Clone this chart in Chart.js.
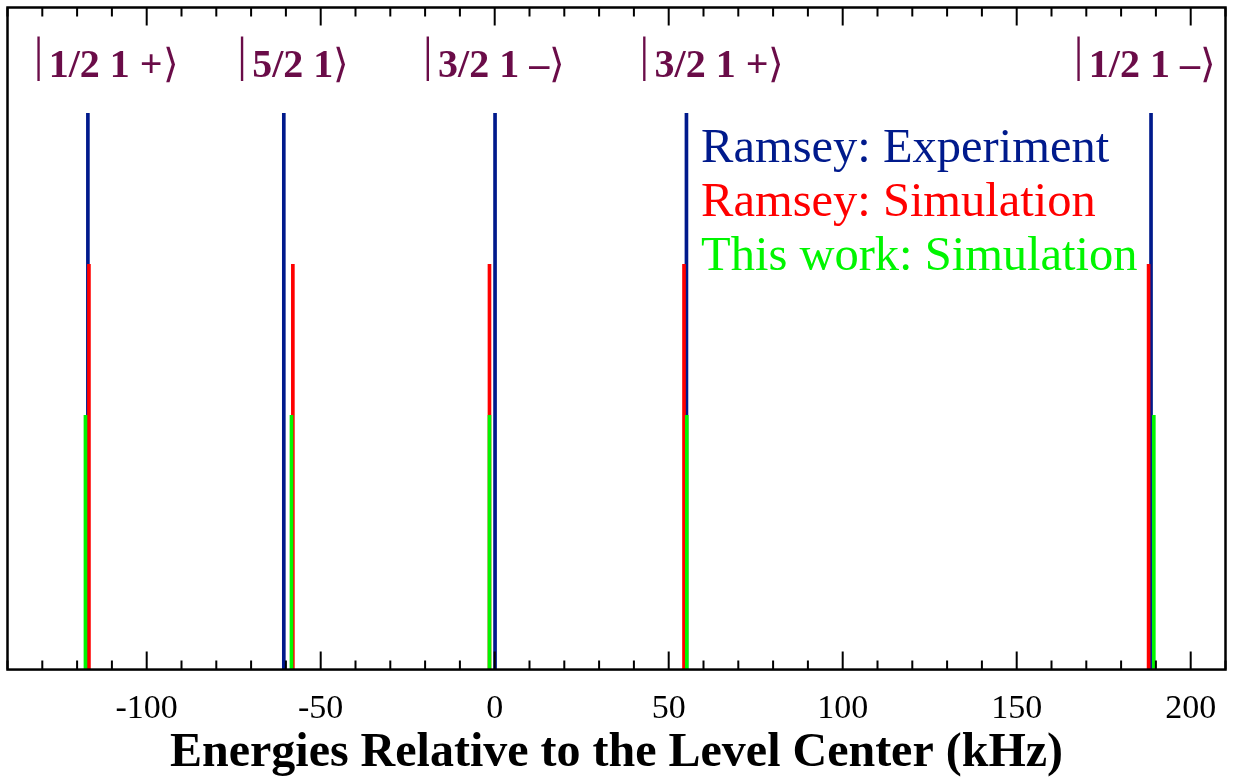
<!DOCTYPE html>
<html>
<head>
<meta charset="utf-8">
<script src="https://cdn.jsdelivr.net/npm/chart.js@4.4.1/dist/chart.umd.min.js"></script>
<style>
  html, body { margin: 0; padding: 0; background: #fff; }
</style>
</head>
<body>
<canvas id="chart" width="1234" height="780"></canvas>
<script>
// line positions (kHz) and heights (arb. units)
const expEnergies = [-116.9, -60.6, 0.1, 55.1, 188.6];
const expHeights = [0.84, 0.84, 0.84, 0.84, 0.84];
const ramseySimEnergies = [-116.6, -58.0, -1.5, 54.4, 187.9];
const ramseySimHeights = [0.612, 0.612, 0.612, 0.612, 0.612];
const thisWorkEnergies = [-117.6, -58.4, -1.5, 55.2, 189.4];
const thisWorkHeights = [0.384, 0.384, 0.384, 0.384, 0.384];

const seriesLabels = ['Ramsey: Experiment', 'Ramsey: Simulation', 'This work: Simulation'];
const levelLabels = ['1/2 1 +', '5/2 1', '3/2 1 \u2013', '3/2 1 +', '1/2 1 \u2013'];
const xTitle = 'Energies Relative to the Level Center (kHz)';

const SERIF = "'Liberation Serif', 'Times New Roman', serif";

function points(xs, ys) {
  return xs.map((x, i) => ({ x: x, y: ys[i] }));
}

// frame, inward tick marks, ket labels and the text legend
const decorations = {
  id: 'decorations',
  afterDraw(chart, args, opts) {
    const ctx = chart.ctx;
    const area = chart.chartArea;
    const xs = chart.scales.x;
    ctx.save();

    // tick marks on bottom and top edges
    ctx.strokeStyle = '#000';
    ctx.lineWidth = 2;
    xs.ticks.forEach(t => {
      const px = xs.getPixelForValue(t.value);
      const len = t.value % 50 === 0 ? 18 : 9;
      ctx.beginPath();
      ctx.moveTo(px, area.bottom);
      ctx.lineTo(px, area.bottom - len);
      ctx.moveTo(px, area.top);
      ctx.lineTo(px, area.top + len);
      ctx.stroke();
    });

    // frame
    ctx.lineWidth = 2.5;
    ctx.strokeRect(area.left, area.top, area.right - area.left, area.bottom - area.top);

    // ket labels
    ctx.fillStyle = opts.ketColor;
    ctx.textAlign = 'left';
    ctx.textBaseline = 'alphabetic';
    levelLabels.forEach((txt, i) => {
      const x = xs.getPixelForValue(opts.ketX[i]);
      const base = area.top + 69.5;
      ctx.font = '48px ' + SERIF;
      ctx.fillText('|', x - 1, base - 6);
      ctx.font = 'bold 40px ' + SERIF;
      ctx.fillText(txt, x + 14, base);
      const w = ctx.measureText(txt).width;
      ctx.font = '40px ' + SERIF;
      ctx.fillText('\u27E9', x + 14 + w, base);
    });

    // legend as coloured text
    ctx.font = '48.5px ' + SERIF;
    const lx = xs.getPixelForValue(opts.legendX);
    chart.data.datasets.forEach((ds, i) => {
      ctx.fillStyle = ds.backgroundColor;
      ctx.fillText(ds.label, lx, area.top + 154 + i * 54.3);
    });

    ctx.restore();
  }
};

new Chart(document.getElementById('chart'), {
  type: 'bar',
  data: {
    datasets: [
      { label: seriesLabels[0], data: points(expEnergies, expHeights), backgroundColor: '#001a8c', order: 3 },
      { label: seriesLabels[1], data: points(ramseySimEnergies, ramseySimHeights), backgroundColor: '#ff0000', order: 2 },
      { label: seriesLabels[2], data: points(thisWorkEnergies, thisWorkHeights), backgroundColor: '#00f500', order: 1 }
    ]
  },
  options: {
    responsive: false,
    animation: false,
    devicePixelRatio: 1,
    datasets: {
      bar: { barThickness: 3, grouped: false, borderWidth: 0 }
    },
    layout: {
      autoPadding: false,
      padding: { left: 7.5, right: 8.5, top: 7.5, bottom: 2.5 }
    },
    scales: {
      x: {
        type: 'linear',
        min: -140,
        max: 210,
        offset: false,
        grid: { display: false, drawTicks: false },
        border: { display: false },
        ticks: {
          stepSize: 10,
          autoSkip: false,
          maxRotation: 0,
          padding: 7.5, // also sets the left inset of the plot
          color: '#000',
          font: { family: SERIF, size: 34, lineHeight: 1.91 },
          callback: v => (v % 50 === 0 && v > -140 && v < 210 ? v : '')
        },
        title: {
          display: true,
          text: xTitle,
          color: '#000',
          font: { family: SERIF, size: 48, weight: 'bold', lineHeight: 1 },
          padding: { top: -20, bottom: 0 }
        }
      },
      y: {
        min: 0,
        max: 1,
        display: false
      }
    },
    plugins: {
      legend: { display: false },
      tooltip: { enabled: false },
      decorations: {
        ketColor: '#6a0c48',
        ketX: [-132.2, -73.7, -20.3, 41.9, 166.7],
        legendX: 59.3
      }
    }
  },
  plugins: [decorations]
});
</script>
</body>
</html>
